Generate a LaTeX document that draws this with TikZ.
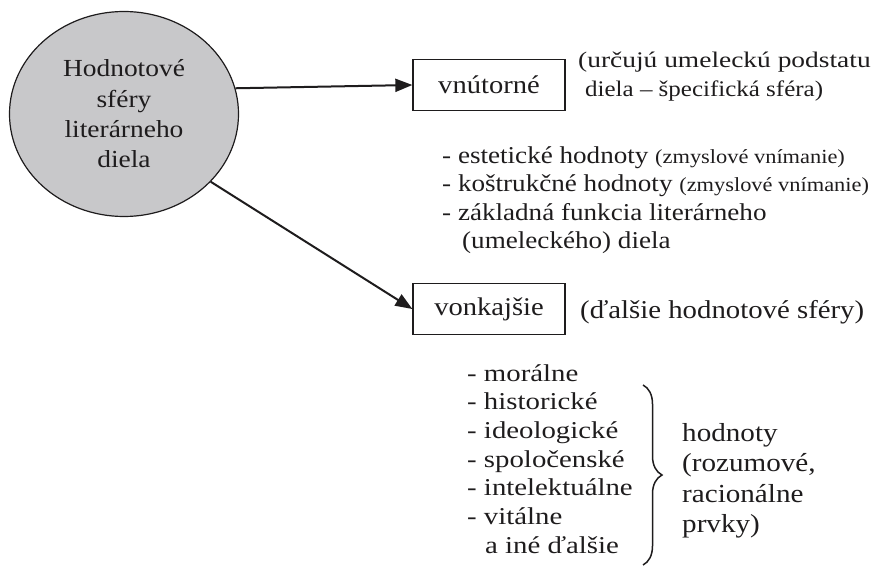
\documentclass[tikz,border=0pt]{standalone}
\usepackage{fontspec}
\setmainfont{Liberation Serif}
\usetikzlibrary{arrows.meta,shapes.geometric,decorations.pathreplacing}

\definecolor{spheregray}{RGB}{200,200,202}
\definecolor{ink}{RGB}{30,28,29}

% font size helper: size and baseline skip in pt
\newcommand{\fsz}[2]{\fontsize{#1}{#2}\selectfont}
% the lettering is set slightly wide
\newcommand{\wide}[1]{\scalebox{1.12}[1]{#1}}
\newcommand{\wider}[1]{\scalebox{1.19}[1]{#1}}
% smaller parenthetical remark inside a line
\newcommand{\aside}[1]{{\fsz{20}{24}#1}}

\begin{document}
\begin{tikzpicture}[x=1pt,y=-1pt,
  every node/.style={inner sep=0pt, text=ink},
  sphere/.style={ellipse, draw=ink, line width=1.2pt, fill=spheregray,
    minimum width=229pt, minimum height=205pt, align=center,
    font=\fsz{24.5}{30.3}},
  catbox/.style={draw=ink, line width=1.3pt, minimum width=152pt,
    minimum height=51pt, font=\fsz{25.5}{30}},
  link/.style={draw=ink, line width=2pt,
    -{Triangle[length=17pt,width=13pt]}},
  note/.style={anchor=base west, font=\fsz{22.3}{30}},
  item/.style={anchor=base west, font=\fsz{24.2}{28.7}},
  remark/.style={anchor=base west, font=\fsz{25.7}{30}},
  verdict/.style={anchor=base west, font=\fsz{26}{31}},
  bracket/.style={draw=ink, line width=1.5pt,
    decorate, decoration={brace, amplitude=19pt}}
]
\useasboundingbox (0,0) rectangle (876,567);

% central sphere
\node[sphere] (sphere) at (124,114)
  {\wide{Hodnotové}\\\wide{sféry}\\\wide{literárneho}\\\wide{diela}};

% the two categories
\node[catbox] (inner) at (489,85) {\wide{vnútorné}};
\node[catbox] (outer) at (489,309) {\wide{vonkajšie}};

\draw[link] (sphere.13) -- (inner.west);
\draw[link] (sphere.-38) -- (outer.west);

% comment beside the inner category
\node[note] (innerA) at (578,68) {\scalebox{1.23}[1]{(určujú umeleckú podstatu}};
\node[note] (innerB) at (585,97) {\wide{diela -- špecifická sféra)}};

% inner values
\node[item] (in1) at (442,164) {\wide{- estetické hodnoty \aside{(zmyslové vnímanie)}}};
\node[item] (in2) at (442,192) {\wide{- koštrukčné hodnoty \aside{(zmyslové vnímanie)}}};
\node[item] (in3) at (442,220) {\wide{- základná funkcia literárneho}};
\node[item] (in4) at (462,248) {\wide{(umeleckého) diela}};

% comment beside the outer category
\node[remark] (outerA) at (580,318) {\wide{(ďalšie hodnotové sféry)}};

% outer values
\node[item] (out1) at (467,381.0) {\wider{- morálne}};
\node[item] (out2) at (467,409.7) {\wider{- historické}};
\node[item] (out3) at (467,438.4) {\wider{- ideologické}};
\node[item] (out4) at (467,467.1) {\wider{- spoločenské}};
\node[item] (out5) at (467,495.8) {\wider{- intelektuálne}};
\node[item] (out6) at (467,524.5) {\wider{- vitálne}};
\node[item] (out7) at (485,553.2) {\wider{a iné ďalšie}};

% brace grouping the outer values
\coordinate (braceTop) at (643,385);
\coordinate (braceBot) at (643,565);
\draw[bracket] (braceTop) -- (braceBot);

\node[verdict] (v1) at (682,441) {\wide{hodnoty}};
\node[verdict] (v2) at (682,471) {\wide{(rozumové,}};
\node[verdict] (v3) at (682,502) {\wide{racionálne}};
\node[verdict] (v4) at (682,532) {\wide{prvky)}};
\end{tikzpicture}
\end{document}
